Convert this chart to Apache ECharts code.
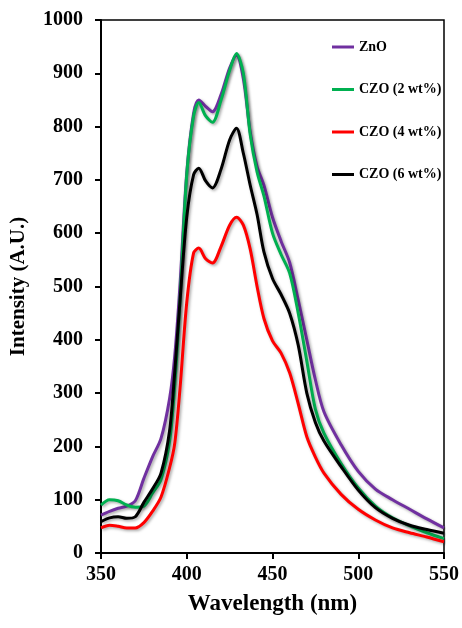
<!DOCTYPE html>
<html>
<head>
<meta charset="utf-8">
<script src="https://cdn.jsdelivr.net/npm/echarts@6/dist/echarts.min.js"></script>
<style>
html,body{margin:0;padding:0;background:#fff;}
#chart{width:462px;height:628px;}
</style>
</head>
<body>
<div id="chart"></div>
<script>
var wavelengths = [350,355,360,365,370,375,380,385,390,393,396,400,404,407,411,415,420,425,429,433,437,441,445,450,455,460,465,470,475,480,490,500,510,520,530,540,550];
var znO   = [71,78,84,88,98,140,180,215,290,370,500,713,825,850,838,828,860,910,934,890,790,725,690,630,585,545,475,400,325,265,203,153,120,100,82,64,47];
var czo2  = [90,100,98,90,86,88,112,138,210,315,470,710,820,845,820,808,850,905,937,900,785,715,670,600,560,525,450,360,270,225,168,122,88,66,51,38,27];
var czo4  = [47,52,50,47,47,57,78,105,160,206,306,470,563,572,552,544,575,615,630,615,570,500,440,398,375,338,280,218,180,150,110,82,62,47,38,30,21];
var czo6  = [59,66,68,65,68,95,120,150,230,340,470,630,710,722,698,685,720,775,797,750,690,635,565,515,485,450,390,300,245,210,162,118,85,65,52,44,37];
var seriesNames = ['ZnO','CZO (2 wt%)','CZO (4 wt%)','CZO (6 wt%)'];
var seriesColors = ['#7030A0','#00B050','#FF0000','#000000'];
var seriesValues = [znO, czo2, czo4, czo6];

var FONT = '"Liberation Serif","Times New Roman",serif';

function pairs(vals){ return wavelengths.map(function(w,i){ return [w, vals[i]]; }); }

var series = seriesNames.map(function(name, k){
  return {
    name: name,
    type: 'line',
    data: pairs(seriesValues[k]),
    smooth: 0.3,
    symbol: 'none',
    color: seriesColors[k],
    lineStyle: {
      width: 3,
      color: seriesColors[k],
      shadowColor: 'rgba(0,0,0,0.35)',
      shadowBlur: 3,
      shadowOffsetX: 1.5,
      shadowOffsetY: 1.5
    },
    animation: false
  };
});

var chart = echarts.init(document.getElementById('chart'), null, {renderer:'canvas'});
chart.setOption({
  backgroundColor: '#fff',
  animation: false,
  grid: {
    left: 101, right: 18, top: 20, bottom: 75,
    show: true, borderColor: '#000', borderWidth: 1.5, backgroundColor: 'transparent'
  },
  legend: {
    orient: 'vertical',
    left: 332, top: 40, padding: 0,
    icon: 'rect',
    itemWidth: 22, itemHeight: 3, itemGap: 28.5,
    data: seriesNames,
    textStyle: {fontFamily: FONT, fontWeight: 'bold', fontSize: 14, color: '#000'}
  },
  xAxis: {
    type: 'value', min: 350, max: 550, interval: 50,
    name: 'Wavelength (nm)', nameLocation: 'middle', nameGap: 40,
    nameTextStyle: {fontFamily: FONT, fontWeight: 'bold', fontSize: 23, color: '#000'},
    axisLine: {show: true, lineStyle: {color: '#000', width: 2}},
    axisTick: {show: true, inside: false, length: 6, lineStyle: {color: '#000', width: 2}},
    axisLabel: {fontFamily: FONT, fontWeight: 'bold', fontSize: 20, color: '#000', margin: 12,
      formatter: function(v){ return String(v); }},
    splitLine: {show: false}
  },
  yAxis: {
    type: 'value', min: 0, max: 1000, interval: 100,
    name: 'Intensity (A.U.)', nameLocation: 'middle', nameGap: 72,
    nameTextStyle: {fontFamily: FONT, fontWeight: 'bold', fontSize: 21, color: '#000'},
    axisLine: {show: true, lineStyle: {color: '#000', width: 2}},
    axisTick: {show: true, inside: false, length: 6, lineStyle: {color: '#000', width: 2}},
    axisLabel: {fontFamily: FONT, fontWeight: 'bold', fontSize: 20, color: '#000', margin: 18,
      formatter: function(v){ return String(v); }},
    splitLine: {show: false}
  },
  series: series
});
</script>
</body>
</html>
